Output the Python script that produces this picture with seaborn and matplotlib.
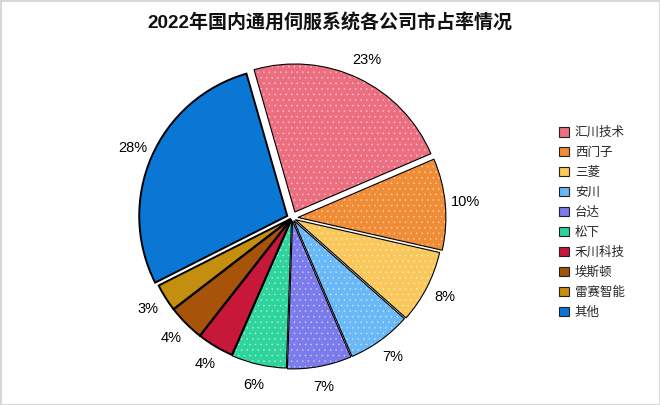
import matplotlib
matplotlib.use("Agg")
import matplotlib.pyplot as plt
import seaborn as sns
from matplotlib.patches import Rectangle, Patch

companies = ["汇川技术", "西门子", "三菱", "安川", "台达", "松下", "禾川科技", "埃斯顿", "雷赛智能", "其他"]
shares = [23, 10, 8, 7, 7, 6, 4, 4, 3, 28]
hex_colors = ["#EB6F80", "#F08C35", "#F9C75A", "#6BB8F7", "#7B7BEC", "#2ED49B",
              "#C8183A", "#A7540A", "#C48E0F", "#0A77D5"]
dotted = [True, True, True, True, True, True, False, False, False, False]
explode = [0.045, 0.04, 0.025, 0.02, 0.02, 0.015, 0.01, 0.01, 0.01, 0.035]
title = "2022年国内通用伺服系统各公司市占率情况"

sns.set_theme(style="white")
plt.rcParams["font.family"] = ["Liberation Sans", "Noto Sans CJK SC", "DejaVu Sans"]
plt.rcParams["hatch.linewidth"] = 0.4
palette = sns.color_palette(hex_colors)

W, H = 660, 405
fig = plt.figure(figsize=(W / 100, H / 100), dpi=100)
fig.patch.set_facecolor("white")

cx, cy, R = 292, 218, 148
span = 1.5
ax = fig.add_axes([(cx - span * R) / W, ((H - cy) - span * R) / H, 2 * span * R / W, 2 * span * R / H])
ax.set_xlim(-span, span)
ax.set_ylim(-span, span)
ax.axis("off")

start = 106
wedges, texts, autotexts = ax.pie(
    shares, colors=palette, explode=explode, startangle=start, counterclock=False,
    autopct="%d%%", pctdistance=1.14, radius=1.0,
    wedgeprops=dict(linewidth=0, edgecolor="white"),
    textprops=dict(fontsize=10.5, color="black"),
)
for w, d in zip(wedges, dotted):
    if d:
        w.set_hatch("...")
        w.set_edgecolor((1, 1, 1, 0.5))
        w.set_linewidth(0)
w2, _ = ax.pie(
    shares, colors=palette, explode=explode, startangle=start, counterclock=False,
    radius=1.0, wedgeprops=dict(fill=False, linewidth=0.8, edgecolor="black"),
)
for w, d in zip(w2, dotted):
    if not d:
        w.set_linewidth(1.4)
ax.set_xlim(-span, span)
ax.set_ylim(-span, span)

fig.text(0.5, 1 - 23 / H, title, ha="center", va="center", fontsize=13.7, fontweight="bold", color="#111111")

handles = [Patch(facecolor=c, edgecolor="#222222", linewidth=0.8) for c in palette]
leg = fig.legend(handles, companies, loc="upper left", bbox_to_anchor=(553 / W, 1 - 121 / H),
                 frameon=False, fontsize=9, handlelength=0.75, handleheight=0.75,
                 handletextpad=0.5, labelspacing=0.63, borderpad=0)

fig.patches.append(Rectangle((0, 0), 1, 1, transform=fig.transFigure, fill=False,
                             edgecolor="#d6d6d6", linewidth=2))

fig.savefig("out.png", dpi=100, facecolor="white")
